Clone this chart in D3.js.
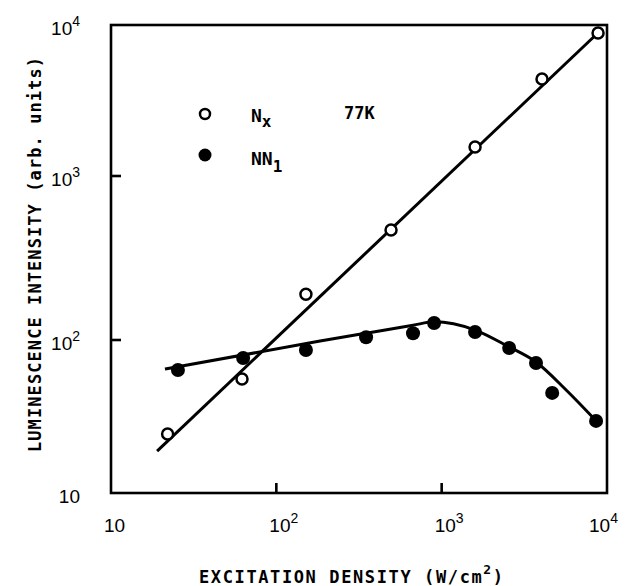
<!DOCTYPE html>
<html>
<head>
<meta charset="utf-8">
<script src="https://cdn.jsdelivr.net/npm/d3@7"></script>
<style>
  html, body { margin: 0; padding: 0; background: #fff; }
  .num { font-family: "Liberation Sans", Arial, sans-serif; font-size: 19px; fill: #000; }
  .mono { font-family: "DejaVu Sans Mono", monospace; font-weight: bold; fill: #000; }
</style>
</head>
<body>
<div id="chart"></div>
<script>
// data (W/cm^2, arb. units)
const nxDensity = [22, 62, 151, 494, 1592, 4045, 8830];
const nxIntensity = [24.3, 55.6, 190, 469, 1556, 4385, 8850];

const nn1Density = [25.4, 63, 151, 349, 671, 900, 1592, 2560, 3720, 4660, 8590];
const nn1Intensity = [63.7, 76.2, 86, 104, 110, 127, 112, 88.7, 70.8, 45.1, 29.6];

// drawn fit lines
const nxFitDensity = [19, 9200];
const nxFitIntensity = [18.8, 9270];
const nn1FitDensity = [21.2, 184, 349, 671, 900, 1592, 2560, 3720, 5660, 8590];
const nn1FitIntensity = [64.6, 98.4, 110, 123, 129, 115, 90, 71.8, 47.1, 29.6];

const xTickValues = [10, 100, 1000, 10000];
const yTickValues = [10, 100, 1000, 10000];

const width = 627, height = 586;
const plot = { left: 111, right: 607, top: 25, bottom: 493 };

const svg = d3.select('#chart')
  .append('svg')
  .attr('width', width)
  .attr('height', height)
  .attr('viewBox', `0 0 ${width} ${height}`);

svg.append('rect').attr('width', width).attr('height', height).attr('fill', '#fff');

const x = d3.scaleLog()
  .domain([10, 10000])
  .range([plot.left, plot.right]);

// the printed decades are not quite even, so pin each one
const y = d3.scaleLog()
  .domain(yTickValues)
  .range([plot.bottom, 340, 176, plot.top]);

// frame
svg.append('rect')
  .attr('x', plot.left)
  .attr('y', plot.top)
  .attr('width', plot.right - plot.left)
  .attr('height', plot.bottom - plot.top)
  .attr('fill', 'none')
  .attr('stroke', '#000')
  .attr('stroke-width', 2.6);

// inner ticks (only the inner decades)
const tickLen = 10;
svg.append('g').selectAll('line')
  .data(xTickValues.slice(1, -1))
  .join('line')
    .attr('x1', d => x(d)).attr('x2', d => x(d))
    .attr('y1', plot.bottom).attr('y2', plot.bottom - tickLen)
    .attr('stroke', '#000').attr('stroke-width', 2.6);

svg.append('g').selectAll('line')
  .data(yTickValues.slice(1, -1))
  .join('line')
    .attr('y1', d => y(d)).attr('y2', d => y(d))
    .attr('x1', plot.left).attr('x2', plot.left + tickLen)
    .attr('stroke', '#000').attr('stroke-width', 2.6);

// power-of-ten labels
function powerLabel(sel, v) {
  const exp = Math.round(Math.log10(v));
  sel.append('tspan').text('10');
  if (exp > 1) {
    sel.append('tspan')
      .attr('font-size', 14)
      .attr('dy', -9)
      .text(exp);
  }
}

svg.append('g').selectAll('text')
  .data(xTickValues)
  .join('text')
    .attr('class', 'num')
    .attr('x', d => Math.min(x(d) - 7, 589))
    .attr('y', 532)
    .each(function (d) { powerLabel(d3.select(this), d); });

svg.append('g').selectAll('text')
  .data(yTickValues)
  .join('text')
    .attr('class', 'num')
    .attr('text-anchor', 'end')
    .attr('x', 80)
    .attr('y', d => y(d) + 10)
    .each(function (d) { powerLabel(d3.select(this), d); });

// axis titles
const xTitle = svg.append('text')
  .attr('class', 'mono')
  .attr('x', 199)
  .attr('y', 583)
  .attr('font-size', 17)
  .attr('textLength', 304)
  .attr('lengthAdjust', 'spacing');
xTitle.append('tspan').text('EXCITATION DENSITY (W/cm');
xTitle.append('tspan').attr('font-size', 13).attr('dy', -9).text('2');
xTitle.append('tspan').attr('dy', 9).text(')');

svg.append('text')
  .attr('class', 'mono')
  .attr('transform', 'translate(41,452) rotate(-90)')
  .attr('font-size', 17)
  .attr('textLength', 395)
  .attr('lengthAdjust', 'spacing')
  .text('LUMINESCENCE INTENSITY (arb. units)');

// fit lines
const line = d3.line()
  .x(d => x(d[0]))
  .y(d => y(d[1]));

svg.append('path')
  .datum(d3.zip(nxFitDensity, nxFitIntensity))
  .attr('d', line)
  .attr('fill', 'none')
  .attr('stroke', '#000')
  .attr('stroke-width', 3);

svg.append('path')
  .datum(d3.zip(nn1FitDensity, nn1FitIntensity))
  .attr('d', line.curve(d3.curveMonotoneX))
  .attr('fill', 'none')
  .attr('stroke', '#000')
  .attr('stroke-width', 3);

// points
svg.append('g').selectAll('circle')
  .data(d3.zip(nxDensity, nxIntensity))
  .join('circle')
    .attr('cx', d => x(d[0]))
    .attr('cy', d => y(d[1]))
    .attr('r', 5.5)
    .attr('fill', '#fff')
    .attr('stroke', '#000')
    .attr('stroke-width', 2.5);

svg.append('g').selectAll('circle')
  .data(d3.zip(nn1Density, nn1Intensity))
  .join('circle')
    .attr('cx', d => x(d[0]))
    .attr('cy', d => y(d[1]))
    .attr('r', 7)
    .attr('fill', '#000');

// legend
const legend = svg.append('g');
legend.append('circle')
  .attr('cx', 205).attr('cy', 114).attr('r', 5)
  .attr('fill', '#fff').attr('stroke', '#000').attr('stroke-width', 2.5);
legend.append('circle')
  .attr('cx', 205).attr('cy', 155).attr('r', 6.5)
  .attr('fill', '#000');

const nxLabel = legend.append('text')
  .attr('class', 'mono')
  .attr('x', 251).attr('y', 122)
  .attr('font-size', 18);
nxLabel.append('tspan').text('N');
nxLabel.append('tspan').attr('font-size', 16).attr('dy', 5).text('x');

const nnLabel = legend.append('text')
  .attr('class', 'mono')
  .attr('x', 251).attr('y', 165)
  .attr('font-size', 18);
nnLabel.append('tspan').text('NN');
nnLabel.append('tspan').attr('font-size', 16).attr('dy', 7).text('1');

legend.append('text')
  .attr('class', 'mono')
  .attr('x', 344).attr('y', 119)
  .attr('font-size', 17)
  .text('77K');
</script>
</body>
</html>
